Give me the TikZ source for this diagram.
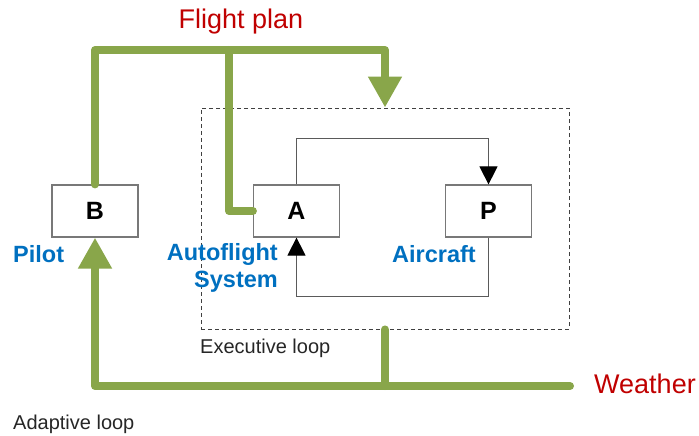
\documentclass[tikz,border=0pt]{standalone}
\usepackage{fontspec}
\setmainfont{Liberation Sans}
\usetikzlibrary{arrows.meta}
\definecolor{grn}{RGB}{137,166,74}
\definecolor{fpred}{RGB}{192,0,0}
\definecolor{lblue}{RGB}{0,112,192}
\definecolor{boxgray}{RGB}{120,120,120}
\definecolor{linegray}{RGB}{90,90,90}
\begin{document}
\begin{tikzpicture}[x=1pt,y=-1pt,
  blk/.style={draw=boxgray, line width=1.2pt, fill=white, minimum width=86pt, minimum height=52pt, inner sep=0pt, font=\fontsize{25}{25}\selectfont\bfseries},
  gline/.style={draw=grn, line width=8pt, line cap=round, line join=round},
  garrow/.style={gline, -{Triangle[length=31pt 0 0, width=32pt 0 0]}},
  tline/.style={draw=linegray, line width=1pt},
  tarrow/.style={tline, -{Triangle[length=18pt 0 0, width=18pt 0 0, fill=black, color=black]}},
  redlbl/.style={text=fpred, font=\fontsize{27}{27}\selectfont, inner sep=0pt},
  bluelbl/.style={text=lblue, font=\fontsize{23.5}{23.5}\selectfont\bfseries, inner sep=0pt},
  blklbl/.style={text=black!85, font=\fontsize{20}{20}\selectfont, inner sep=0pt},
  execbox/.style={draw=black!75, line width=0.9pt, dash pattern=on 4pt off 3pt, minimum width=368pt, minimum height=221pt, inner sep=0pt}
]
\useasboundingbox (0,0) rectangle (699,436);

% executive loop box
\node[execbox] (exec) at (385,218.5) {};

% blocks
\node[blk] (B) at (95,211) {B};
\node[blk] (A) at (296.5,211) {A};
\node[blk] (P) at (488.5,211) {P};

% green flight plan path
\coordinate (tl) at (95,50);
\coordinate (tr) at (385,50);
\coordinate (br) at (229,50);
\draw[garrow] (B.north) -- (tl) -- (tr) -- (exec.north);
\draw[gline] (br) |- (A.west);

% green weather path
\coordinate (wx) at (570,386);
\draw[garrow] (wx) -| (B.south);
\draw[gline] (exec.south) -- (exec.south |- wx);

% thin loop
\draw[tarrow] (A.north) -- ++(0,-46) -| (P.north);
\draw[tarrow] (P.south) -- ++(0,59) -| (A.south);

% labels
\node[redlbl, anchor=base] (fp) at (241,29) {Flight plan};
\node[redlbl, anchor=base west] (wt) at (594,393) {Weather};
\node[bluelbl, anchor=base west] (pl) at (13,262) {Pilot};
\node[bluelbl, anchor=base west] (ac) at (392,262.5) {Aircraft};
\node[bluelbl, anchor=base east] (af1) at (278,260) {Autoflight};
\node[bluelbl, anchor=base east] (af2) at (278,287) {System};
\node[blklbl, anchor=base west] (el) at (200,353) {Executive loop};
\node[blklbl, anchor=base west] (al) at (13,429) {Adaptive loop};
\end{tikzpicture}
\end{document}
